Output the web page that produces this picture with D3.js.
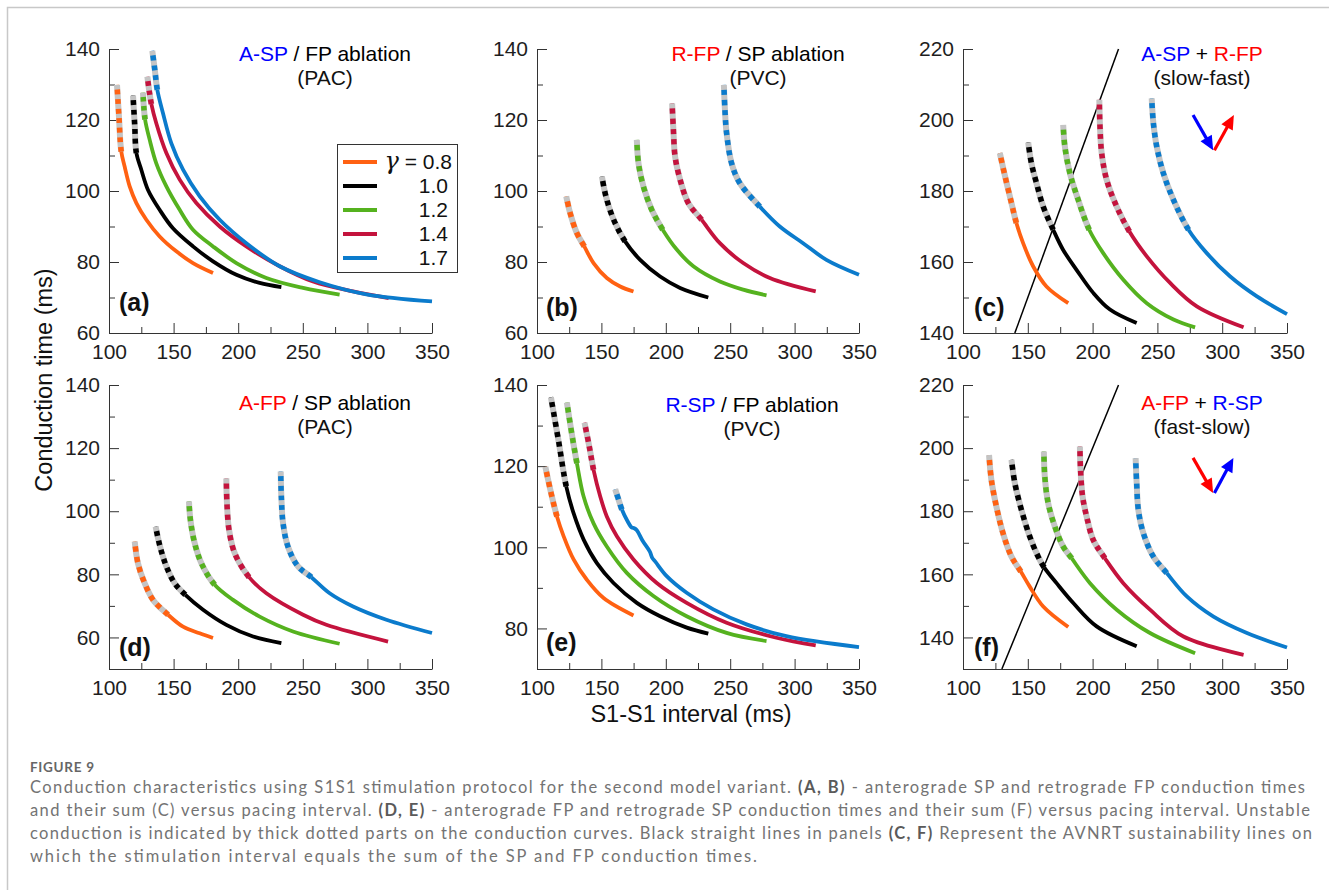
<!DOCTYPE html>
<meta charset="utf-8">
<script src="https://d3js.org/d3.v7.min.js"></script>
<style>
  body { margin: 0; background: #fff; }
  svg text { font-family: "Liberation Sans", Arial, Helvetica, sans-serif; }
</style>
<div id="fig"></div>
<script>
// gamma values and the colour of each curve
var gammas = ["0.8", "1.0", "1.2", "1.4", "1.7"];
var colors = ["#ff6112", "#000000", "#55b21f", "#c4133d", "#0b7bcc"];

// x ticks (S1-S1 interval, ms)
var xTicks = [100, 125, 150, 175, 200, 225, 250, 275, 300, 325, 350];

// (a) A-SP / FP ablation (PAC): [interval, conduction time]
var aSP = [
  [[106.2,129.9],[107.7,121],[109.5,111.1],[112.1,106.9],[116,101.3],[121.2,96.6],[128.9,91.9],[139.2,87.2],[152.1,83],[165,79.7],[180.5,76.9]],
  [[118.6,126.9],[119.9,118.6],[121.2,110.7],[125,106],[130.2,100.3],[139.2,94.7],[149.5,89.5],[165,84.4],[180.5,80.2],[198.6,76.4],[216.6,74.1],[233.4,72.9]],
  [[126.3,127.7],[127.9,120.2],[131.5,114.4],[136.6,107.8],[144.4,101.3],[154.7,94.7],[165,89.1],[180.5,84.4],[198.6,79.7],[221.8,75.5],[250.2,72.7],[278.5,70.8]],
  [[129.7,132.2],[131.2,128],[132.8,124.5],[136.6,119.1],[144.4,110.7],[154.7,103.2],[167.6,96.6],[185.7,90],[206.3,84.4],[232.1,78.8],[257.9,74.5],[288.9,71.7],[316.5,69.8]],
  [[133.5,139.5],[135.5,134],[137.4,128.5],[141.8,121.9],[148.2,113.5],[157.3,106],[170.2,98.5],[185.7,91.9],[206.3,85.3],[232.1,78.8],[263.1,74.3],[299.2,70.9],[350,68.9]]
];
var aSPstable = [109.5, 121.2, 127.9, 132.8, 137.4];  // interval where conduction becomes stable

// (b) R-FP / SP ablation (PVC)
var rFP = [
  [[122.7,98.5],[125.8,93.7],[131,88.1],[136.7,84.4],[143.9,79.7],[154.2,75.5],[164.6,73.1],[174.9,71.7]],
  [[150.4,104.1],[153.5,98.5],[159.4,92],[168.4,85.8],[180.1,80.6],[195.6,75.9],[211.1,72.7],[233,70]],
  [[177.5,114.4],[178.8,107.8],[182.6,101.3],[189.1,94.7],[197.6,89.1],[208.5,83.5],[221.4,78.8],[242,74.5],[260.1,72.2],[278.2,70.6]],
  [[204.9,124.7],[205.9,117.2],[207.2,109.7],[211.1,103.2],[217.5,96.6],[227.8,91.9],[242,85.3],[260.1,79.7],[280.8,75.5],[316.4,71.7]],
  [[245.1,129.9],[245.9,122.9],[247.2,116.3],[251.1,107.8],[257.5,102.2],[273,95.6],[288.5,90],[306.6,85.3],[324.7,80.6],[350,76.4]]
];
var rFPstable = [136.7, 168.4, 197.6, 227.8, 273];

// (c) A-SP + R-FP (slow-fast)
var sumSF = [
  [[128.4,190.7],[132.2,184.5],[137.4,176.6],[141.2,171],[146.4,165.3],[154.1,158.8],[164.4,153.1],[181.2,148.4]],
  [[150.3,193.7],[152.8,187.8],[156.7,182.2],[161.9,175.6],[169.6,169.1],[177.3,163.4],[187.6,157.8],[200.5,151.3],[213.4,146.6],[234,142.8]],
  [[177.3,198.6],[178.6,192.5],[182.5,185],[188.9,177.5],[197.4,169.1],[208.2,162.5],[223.7,155],[241.8,148.4],[262.4,143.8],[279.1,141.6]],
  [[205.2,205.7],[205.7,198.2],[207,190.7],[210.8,183.2],[218.6,175.6],[228.4,168.6],[241.8,161.6],[259.8,154.1],[280.4,147.5],[316.5,141.6]],
  [[245.6,206.1],[246.9,199.1],[249.5,192.5],[254.6,185],[262.4,177.5],[274,169.1],[288.1,162.5],[306.2,155.9],[326.8,150.3],[350,145.3]]
];
var sumSFstable = [141.2, 169.6, 197.4, 228.4, 274];

// (d) A-FP / SP ablation (PAC)
var aFP = [
  [[119.9,90.4],[122.4,83.5],[127.6,77.2],[134.1,71.9],[145.7,67.2],[157.3,63.4],[170.2,61.3],[180.5,59.8]],
  [[136.1,95.1],[139.2,89.3],[144.4,82.5],[150.8,77.2],[159.1,73.5],[172.8,68.8],[190.8,64],[211.5,60.3],[233.4,58.2]],
  [[161.9,103.1],[163,97.3],[166.3,89.9],[171.5,83.5],[181.8,76.7],[196,71.9],[216.6,66.6],[242.4,61.9],[278.5,58]],
  [[190.8,110.4],[191.3,102.5],[192.9,94.1],[197.3,86.7],[208.4,79.1],[221.8,74],[250.2,67.2],[268.2,64],[316,58.7]],
  [[232.9,112.6],[233.4,104.6],[234.7,96.2],[238.5,88.8],[246.3,82.5],[256.6,79.1],[270.8,74],[288.9,69.8],[314.7,65.6],[350,61.4]]
];
var aFPstable = [145.7, 159.1, 181.8, 208.4, 256.6];

// (e) R-SP / FP ablation (PVC)
var rSP = [
  [[106.5,119.8],[110.9,113.4],[115.5,107.6],[120.7,102.7],[128.4,97],[138.7,92],[151.7,87.5],[174.9,83.2]],
  [[110.8,137],[116.8,126.1],[122.7,115],[128.4,108.4],[136.2,101.9],[146.5,96.1],[159.4,91.2],[177.5,86.3],[195.6,83],[216.3,80.2],[233,78.7]],
  [[123.2,135.7],[127,128],[131,120.7],[136.2,112.5],[143.9,105.9],[154.2,100.2],[169.7,93.7],[190.4,88],[216.2,83],[247.2,78.9],[278.2,76.9]],
  [[136.9,130.7],[140.5,125],[143.9,119.1],[149.1,112.5],[154.2,107.6],[162,102.7],[174.9,97],[193,91.2],[216.2,86.3],[247.2,81.4],[285.9,77.7],[316.4,75.8]],
  [[160.7,114.3],[163.3,111.8],[165.9,109.3],[170,106.6],[173.5,104.9],[175.5,104.7],[177.5,104.2],[182,101.6],[187.5,99],[189.5,97.4],[192,96.4],[200.7,92.9],[216.2,88.8],[236.9,84.7],[262.7,81],[293.6,78.1],[350,75.4]]
];
var rSPstable = [115.5, 122.7, 131, 143.9, 165.9];

// (f) A-FP + R-SP (fast-slow)
var sumFS = [
  [[120.1,197.8],[121.9,189.9],[125.8,181.4],[130.9,173],[137.4,165.6],[144.6,160.9],[151.5,156.1],[161.9,149.8],[181.2,143.3]],
  [[137.4,196.3],[140,188.9],[145.1,180.4],[151.5,172],[158,165.6],[162.6,162.2],[172.2,157.2],[185.1,150.9],[203.1,143.5],[234,137.2]],
  [[162.4,198.9],[163.1,191],[165.7,182.6],[170.9,175.1],[177.3,168.8],[183.8,165.1],[198,157.2],[218.6,148.8],[244.3,141.4],[279.1,135]],
  [[190.2,200.5],[190.7,193.1],[192.3,184.6],[195.4,178.3],[200.5,170.9],[209.5,165.1],[223.7,157.2],[244.3,148.8],[270.1,140.3],[316.5,134.5]],
  [[233.2,196.8],[234,188.9],[235.3,180.4],[239.2,173],[246.9,165.6],[257.2,160.4],[272.7,153],[293.3,146.6],[319.1,141.4],[350,136.8]]
];
var sumFSstable = [144.6, 162.6, 183.8, 209.5, 257.2];

// AVNRT sustainability lines (interval = sum of conduction times)
var sustainC = [[140, 140], [220, 220]];
var sustainF = [[130, 130], [220, 220]];

// direction arrows (data coordinates of the panel)
var arrowsC = [
  {from: [277.5, 201.4], to: [293, 191.5], color: "#0000ff"},
  {from: [294, 191.5], to: [309, 201.4], color: "#ff0000"}
];
var arrowsF = [
  {from: [277.5, 196.9], to: [293, 185.8], color: "#ff0000"},
  {from: [294, 185.8], to: [308.6, 196.9], color: "#0000ff"}
];

var BLUE = "#0000ff", RED = "#ff0000";

var panels = [
  {curves: aSP, stable: aSPstable, left: 109, right: 432, top: 49, bottom: 333, yDomain: [60, 140],
   label: "(a)", lx: 119, ly: 311, tx: 325, ty: 61,
   title: [["A-SP", BLUE], [" / FP ablation", "#000"]], sub: "(PAC)", legend: true},
  {curves: rFP, stable: rFPstable, left: 537, right: 859, top: 49, bottom: 333, yDomain: [60, 140],
   label: "(b)", lx: 546, ly: 316, tx: 758, ty: 61,
   title: [["R-FP", RED], [" / SP ablation", "#000"]], sub: "(PVC)"},
  {curves: sumSF, stable: sumSFstable, left: 963, right: 1287, top: 49, bottom: 333, yDomain: [140, 220],
   label: "(c)", lx: 974, ly: 316, tx: 1202, ty: 61,
   title: [["A-SP", BLUE], [" + ", "#000"], ["R-FP", RED]], sub: "(slow-fast)",
   sustain: sustainC, arrows: arrowsC},
  {curves: aFP, stable: aFPstable, left: 109, right: 432, top: 385, bottom: 669, yDomain: [50, 140],
   label: "(d)", lx: 119, ly: 656, tx: 325, ty: 410,
   title: [["A-FP", RED], [" / SP ablation", "#000"]], sub: "(PAC)"},
  {curves: rSP, stable: rSPstable, left: 537, right: 859, top: 385, bottom: 669, yDomain: [70, 140],
   label: "(e)", lx: 546, ly: 651, tx: 752, ty: 412,
   title: [["R-SP", BLUE], [" / FP ablation", "#000"]], sub: "(PVC)"},
  {curves: sumFS, stable: sumFSstable, left: 963, right: 1287, top: 385, bottom: 669, yDomain: [130, 220],
   label: "(f)", lx: 974, ly: 656, tx: 1202, ty: 410,
   title: [["A-FP", RED], [" + ", "#000"], ["R-SP", BLUE]], sub: "(fast-slow)",
   sustain: sustainF, arrows: arrowsF}
];

var svg = d3.select("#fig")
  .append("svg")
    .attr("width", 1329)
    .attr("height", 890);

// light frame round the figure (top and left edges)
svg.append("path")
  .attr("d", "M7.5,890V7.5H1329")
  .attr("fill", "none")
  .attr("stroke", "#c8c8c8")
  .attr("stroke-width", 1.5);

// length along a path where it reaches screen x = px
function lengthAtX(node, px) {
  var lo = 0, hi = node.getTotalLength();
  for (var k = 0; k < 30; k++) {
    var mid = (lo + hi) / 2;
    if (node.getPointAtLength(mid).x < px) lo = mid; else hi = mid;
  }
  return lo;
}

panels.forEach(function(p) {
  var x = d3.scaleLinear().domain([100, 350]).range([p.left, p.right]);
  var y = d3.scaleLinear().domain(p.yDomain).range([p.bottom, p.top]);
  var g = svg.append("g");

  var yAll = d3.range(p.yDomain[0], p.yDomain[1] + 1, 10);
  var yMajor = yAll.filter(function(v) { return v % 20 === 0; });
  var yMinor = yAll.filter(function(v) { return v % 20 !== 0; });
  var xMajor = xTicks.filter(function(v) { return v % 50 === 0; });
  var xMinor = xTicks.filter(function(v) { return v % 50 !== 0; });

  // minor ticks, no labels
  g.append("g")
    .attr("transform", "translate(" + p.left + ",0)")
    .call(d3.axisLeft(y).tickValues(yMinor).tickSize(-6).tickSizeOuter(0).tickFormat(""))
    .call(function(a) { a.select(".domain").remove(); });
  g.append("g")
    .attr("transform", "translate(0," + p.bottom + ")")
    .call(d3.axisBottom(x).tickValues(xMinor).tickSize(-6).tickSizeOuter(0).tickFormat(""))
    .call(function(a) { a.select(".domain").remove(); });

  // major ticks with labels
  var ya = g.append("g")
    .attr("transform", "translate(" + p.left + ",0)")
    .call(d3.axisLeft(y).tickValues(yMajor).tickSize(-10).tickSizeOuter(0).tickPadding(9));
  var xa = g.append("g")
    .attr("transform", "translate(0," + p.bottom + ")")
    .call(d3.axisBottom(x).tickValues(xMajor).tickSize(-10).tickSizeOuter(0).tickPadding(11));
  [ya, xa].forEach(function(a) {
    a.attr("font-size", 21).attr("font-family", null).style("color", "#1e1e1e");
  });
  g.selectAll(".tick line").attr("stroke", "#333");
  g.selectAll(".domain").attr("stroke", "#333");

  // sustainability line
  if (p.sustain) {
    g.append("line")
      .attr("x1", x(p.sustain[0][0])).attr("y1", y(p.sustain[0][1]))
      .attr("x2", x(p.sustain[1][0])).attr("y2", y(p.sustain[1][1]))
      .attr("stroke", "#000")
      .attr("stroke-width", 1.5);
  }

  var line = d3.line()
    .x(function(d) { return x(d[0]); })
    .y(function(d) { return y(d[1]); })
    .curve(d3.curveCatmullRom.alpha(0.5));

  p.curves.forEach(function(pts, i) {
    var path = g.append("path")
      .attr("d", line(pts))
      .attr("fill", "none")
      .attr("stroke", colors[i])
      .attr("stroke-width", 3.8);

    // unstable part: thick grey band with coloured dots over it
    var total = path.node().getTotalLength();
    var lu = lengthAtX(path.node(), x(p.stable[i]));
    g.append("path")
      .attr("d", line(pts))
      .attr("fill", "none")
      .attr("stroke", "#c4c4c4")
      .attr("stroke-width", 6)
      .attr("stroke-dasharray", lu + "," + (total + 10));
    var n = Math.max(1, Math.round(lu / 10));
    var step = lu / n, dash = [];
    for (var k = 0; k < n; k++) dash.push(step / 2, step / 2);
    dash.push(0, total + 10);
    g.append("path")
      .attr("d", line(pts))
      .attr("fill", "none")
      .attr("stroke", colors[i])
      .attr("stroke-width", 5.5)
      .attr("stroke-dasharray", dash.join(","))
      .attr("stroke-dashoffset", -step / 2);
  });

  // arrows
  (p.arrows || []).forEach(function(a) {
    var x1 = x(a.from[0]), y1 = y(a.from[1]), x2 = x(a.to[0]), y2 = y(a.to[1]);
    var dx = x2 - x1, dy = y2 - y1, L = Math.sqrt(dx * dx + dy * dy);
    var ux = dx / L, uy = dy / L, hl = 14, hw = 6.5;
    var bx = x2 - ux * hl, by = y2 - uy * hl;
    g.append("line")
      .attr("x1", x1).attr("y1", y1).attr("x2", bx + ux).attr("y2", by + uy)
      .attr("stroke", a.color).attr("stroke-width", 3.2);
    g.append("path")
      .attr("d", "M" + x2 + "," + y2 +
                 "L" + (bx - uy * hw) + "," + (by + ux * hw) +
                 "L" + (bx + uy * hw) + "," + (by - ux * hw) + "Z")
      .attr("fill", a.color);
  });

  // title
  var t = g.append("text")
    .attr("x", p.tx).attr("y", p.ty)
    .attr("text-anchor", "middle")
    .style("font-size", "21px")
    .style("white-space", "pre");
  p.title.forEach(function(seg) {
    t.append("tspan").attr("fill", seg[1]).text(seg[0]);
  });
  g.append("text")
    .attr("x", p.tx).attr("y", p.ty + 24)
    .attr("text-anchor", "middle")
    .style("font-size", "21px")
    .attr("fill", "#111")
    .text(p.sub);

  // panel letter
  g.append("text")
    .attr("x", p.lx).attr("y", p.ly)
    .style("font-size", "25px")
    .style("font-weight", "bold")
    .attr("fill", "#111")
    .text(p.label);

  // legend
  if (p.legend) {
    var lg = g.append("g");
    lg.append("rect")
      .attr("x", 337.5).attr("y", 144.5)
      .attr("width", 120).attr("height", 128)
      .attr("fill", "#fff")
      .attr("stroke", "#333");
    gammas.forEach(function(gm, i) {
      var yy = 162 + i * 24;
      lg.append("line")
        .attr("x1", 343).attr("x2", 377)
        .attr("y1", yy).attr("y2", yy)
        .attr("stroke", colors[i])
        .attr("stroke-width", 3.8);
      var lt = lg.append("text")
        .attr("x", i === 0 ? 452 : 448).attr("y", yy + 7)
        .attr("text-anchor", "end")
        .style("font-size", "21px")
        .attr("fill", "#111");
      if (i === 0) {
        lt.append("tspan").style("font-family", "'DejaVu Serif', serif").style("font-style", "italic")
          .style("font-size", "24px").text("\u03B3");
        lt.append("tspan").text(" = " + gm);
      } else {
        lt.text(gm);
      }
    });
  }
});

// axis titles
svg.append("text")
  .attr("transform", "translate(52,380) rotate(-90)")
  .attr("text-anchor", "middle")
  .style("font-size", "23.5px")
  .attr("fill", "#111")
  .text("Conduction time (ms)");
svg.append("text")
  .attr("x", 691).attr("y", 722)
  .attr("text-anchor", "middle")
  .style("font-size", "23.5px")
  .attr("fill", "#111")
  .text("S1-S1 interval (ms)");

// caption
var captionLines = [
  [["Conduction characteristics using S1S1 stimulation protocol for the second model variant. ", 0], ["(A, B)", 1], [" - anterograde SP and retrograde FP conduction times", 0]],
  [["and their sum (C) versus pacing interval. ", 0], ["(D, E)", 1], [" - anterograde FP and retrograde SP conduction times and their sum (F) versus pacing interval. Unstable", 0]],
  [["conduction is indicated by thick dotted parts on the conduction curves. Black straight lines in panels ", 0], ["(C, F)", 1], [" Represent the AVNRT sustainability lines on", 0]],
  [["which the stimulation interval equals the sum of the SP and FP conduction times.", 0]]
];
var captionWidths = [1275, 1280, 1282, 727];

svg.append("text")
  .attr("x", 30).attr("y", 772)
  .style("font-family", "Lato, 'Open Sans', sans-serif")
  .style("font-size", "13.5px")
  .style("font-weight", "bold")
  .attr("fill", "#666")
  .attr("textLength", 64)
  .text("FIGURE 9");

captionLines.forEach(function(ln, i) {
  var t = svg.append("text")
    .attr("x", 30).attr("y", 793 + i * 23)
    .style("font-family", "Lato, 'Open Sans', sans-serif")
    .style("font-size", "16.5px")
    .style("white-space", "pre")
    .attr("fill", "#737373")
    .attr("textLength", captionWidths[i])
    .attr("lengthAdjust", "spacing");
  ln.forEach(function(seg) {
    t.append("tspan")
      .style("font-weight", seg[1] ? "bold" : null)
      .attr("fill", seg[1] ? "#5a5a5a" : null)
      .text(seg[0]);
  });
});
</script>
